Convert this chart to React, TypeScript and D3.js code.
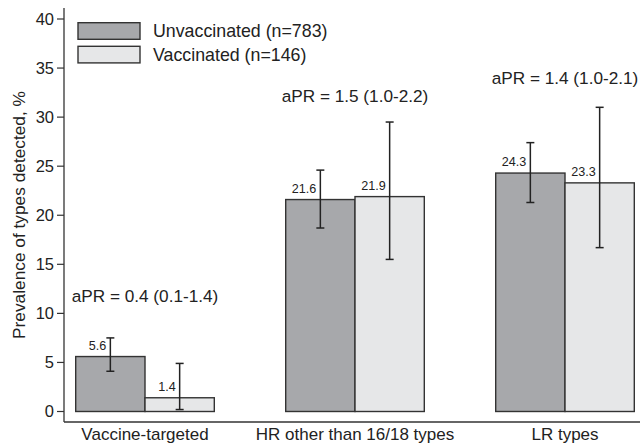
import React from "react";
import * as d3 from "d3";

const categories = ["Vaccine-targeted", "HR other than 16/18 types", "LR types"];
const seriesNames = ["Unvaccinated (n=783)", "Vaccinated (n=146)"];
const unvaccinated = [5.6, 21.6, 24.3];
const vaccinated = [1.4, 21.9, 23.3];
const unvaxLow = [4.1, 18.7, 21.3];
const unvaxHigh = [7.5, 24.6, 27.4];
const vaxLow = [0.2, 15.5, 16.7];
const vaxHigh = [4.9, 29.5, 31.0];
const aprLabels = ["aPR = 0.4 (0.1-1.4)", "aPR = 1.5 (1.0-2.2)", "aPR = 1.4 (1.0-2.1)"];
const aprLevel = [11.2, 31.5, 33.4];
const yTicks = [0, 5, 10, 15, 20, 25, 30, 35, 40];

const W = 640;
const H = 445;
const FONT = "'Liberation Sans', Arial, Helvetica, sans-serif";
const fills = ["#a7a8ab", "#e6e7e8"];

export default function App() {
  const y = d3.scaleLinear().domain([0, 40]).range([411.5, 19]);
  const x0 = d3.scaleBand<string>().domain(categories).range([40, 670]).paddingInner(0.34).paddingOuter(0.17);
  const x1 = d3.scaleBand<string>().domain(seriesNames).range([0, x0.bandwidth()]).padding(0);
  const values = [unvaccinated, vaccinated];
  const lows = [unvaxLow, vaxLow];
  const highs = [unvaxHigh, vaxHigh];
  const axisX = 64;
  const axisY = 422;
  const ink = "#222";

  return (
    <svg width={W} height={H} style={{ position: "absolute", left: 0, top: 0, background: "#fff" }} fontFamily={FONT}>
      <line x1={axisX} x2={axisX} y1={8} y2={axisY} stroke="#333" strokeWidth={1.3} />
      <line x1={axisX} x2={W} y1={axisY} y2={axisY} stroke="#333" strokeWidth={1.3} />
      {yTicks.map((t) => (
        <g key={t}>
          <line x1={axisX - 7} x2={axisX} y1={y(t)} y2={y(t)} stroke="#333" strokeWidth={1.2} />
          <text x={axisX - 10} y={y(t)} dy="0.36em" textAnchor="end" fontSize={16.5} fill={ink}>
            {t}
          </text>
        </g>
      ))}
      <text transform={`translate(25,215) rotate(-90)`} textAnchor="middle" fontSize={17.3} fill={ink}>
        Prevalence of types detected, %
      </text>

      {categories.map((c, i) => (
        <g key={c}>
          {seriesNames.map((s, j) => {
            const bx = (x0(c) as number) + (x1(s) as number);
            const bw = x1.bandwidth();
            const v = values[j][i];
            const cx = bx + bw / 2;
            return (
              <g key={s}>
                <rect x={bx} y={y(v)} width={bw} height={y(0) - y(v)} fill={fills[j]} stroke="#333" strokeWidth={1.4} />
                <line x1={cx} x2={cx} y1={y(lows[j][i])} y2={y(highs[j][i])} stroke={ink} strokeWidth={1.5} />
                <line x1={cx - 4} x2={cx + 4} y1={y(lows[j][i])} y2={y(lows[j][i])} stroke={ink} strokeWidth={1.5} />
                <line x1={cx - 4} x2={cx + 4} y1={y(highs[j][i])} y2={y(highs[j][i])} stroke={ink} strokeWidth={1.5} />
                <text x={cx - 4} y={y(v) - 7} textAnchor="end" fontSize={12.6} fill={ink}>
                  {v.toFixed(1)}
                </text>
              </g>
            );
          })}
          <text x={(x0(c) as number) + x0.bandwidth() / 2} y={y(aprLevel[i])} textAnchor="middle" fontSize={17.2} fill={ink}>
            {aprLabels[i]}
          </text>
          <text x={(x0(c) as number) + x0.bandwidth() / 2} y={440} textAnchor="middle" fontSize={17} fill={ink}>
            {c}
          </text>
        </g>
      ))}

      {seriesNames.map((s, j) => (
        <g key={s} transform={`translate(78,${22.7 + j * 23.6})`}>
          <rect x={0} y={0} width={62} height={16.6} fill={fills[j]} stroke="#333" strokeWidth={1.4} />
          <text x={75} y={14.6} fontSize={17.8} fill={ink}>
            {s}
          </text>
        </g>
      ))}
    </svg>
  );
}
